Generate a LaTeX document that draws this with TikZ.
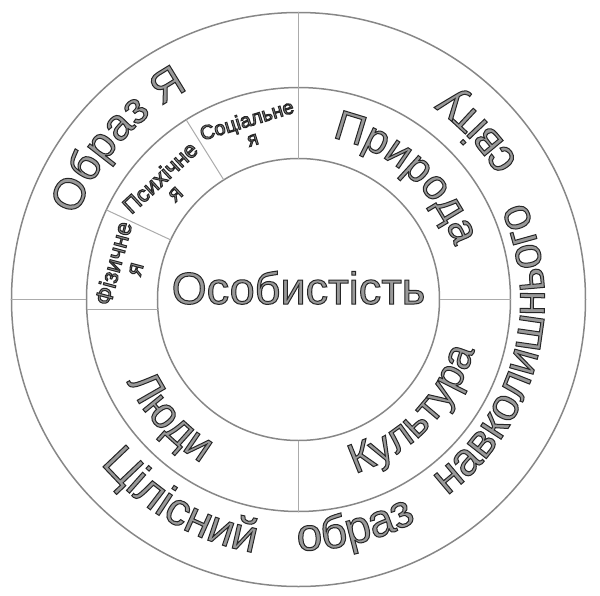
\documentclass[tikz,border=0pt]{standalone}
\usepackage{fontspec}
\setmainfont{Liberation Sans}
\usetikzlibrary{decorations.text}
\definecolor{ringgray}{gray}{0.53}
\definecolor{divgray}{gray}{0.67}
\newcommand\outl{\special{pdf:literal direct 2 Tr 1 w 0.15 0.15 0.15 RG 0.6 0.6 0.6 rg}}
\newcommand\arctxt[5]{%
  \path[decorate,decoration={text along path,text align=center,
    text={|\outl\fontsize{#4}{#4}\selectfont|#5}}]
    (#1:#3pt) arc[start angle=#1,end angle=#2,radius=#3pt];}
\tikzset{
  ring/.style={draw=ringgray, line width=1.5pt},
  divider/.style={draw=divgray, line width=1pt},
  smalltext/.style={align=center, inner sep=0pt},
  bigtext/.style={inner sep=0pt, font=\fontsize{45}{45}\selectfont}
}
\begin{document}
\begin{tikzpicture}
\useasboundingbox (-298.5pt,-295.5pt) rectangle (301.5pt,299.5pt);
% rings
\draw[ring] (0,0) circle[radius=287pt];
\draw[ring] (0,0) circle[radius=212pt];
\draw[ring] (0,0) circle[radius=141pt];
% outer ring dividers
\draw[divider] (90:212pt) -- (90:287pt);
\draw[divider] (180:212pt) -- (180:287pt);
% middle ring dividers
\draw[divider] (0:141pt) -- (0:212pt);
\draw[divider] (90:141pt) -- (90:212pt);
\draw[divider] (270:141pt) -- (270:212pt);
\draw[divider] (122:141pt) -- (122:212pt);
\draw[divider] (155:141pt) -- (155:212pt);
\draw[divider] (-211.8pt,-9.5pt) -- (-140.7pt,-9.5pt);
% centre
\node[bigtext, anchor=base] (person) at (0pt,-4.5pt) {\outl Особистість};
% small segments
\node[smalltext, rotate=17, font=\fontsize{20}{19.5}\selectfont] (soc) at (-49pt,170.5pt) {\outl Соціальне\\я};
\node[smalltext, rotate=43, font=\fontsize{22.5}{21}\selectfont] (psy) at (-131.5pt,114.5pt) {\outl Психічне\\я};
\node[smalltext, rotate=75, font=\fontsize{23.5}{21.5}\selectfont] (phys) at (-175pt,33.5pt) {\outl Фізичне\\я};
% middle ring words
\arctxt{188.5}{88.5}{237}{44}{Образ Я}
\arctxt{108.5}{-11.5}{165}{42}{Природа}
\arctxt{256}{376}{183}{42}{Культура}
\arctxt{162.5}{282.5}{190}{44}{Люди}
% outer phrase
\arctxt{179.9}{299.9}{257}{46}{Цілісний}
\arctxt{223.9}{343.9}{251}{46}{образ}
\arctxt{285.3}{405.3}{246}{46}{навколишнього}
\arctxt{-16.7}{103.3}{259}{46}{світу}
\end{tikzpicture}
\end{document}
